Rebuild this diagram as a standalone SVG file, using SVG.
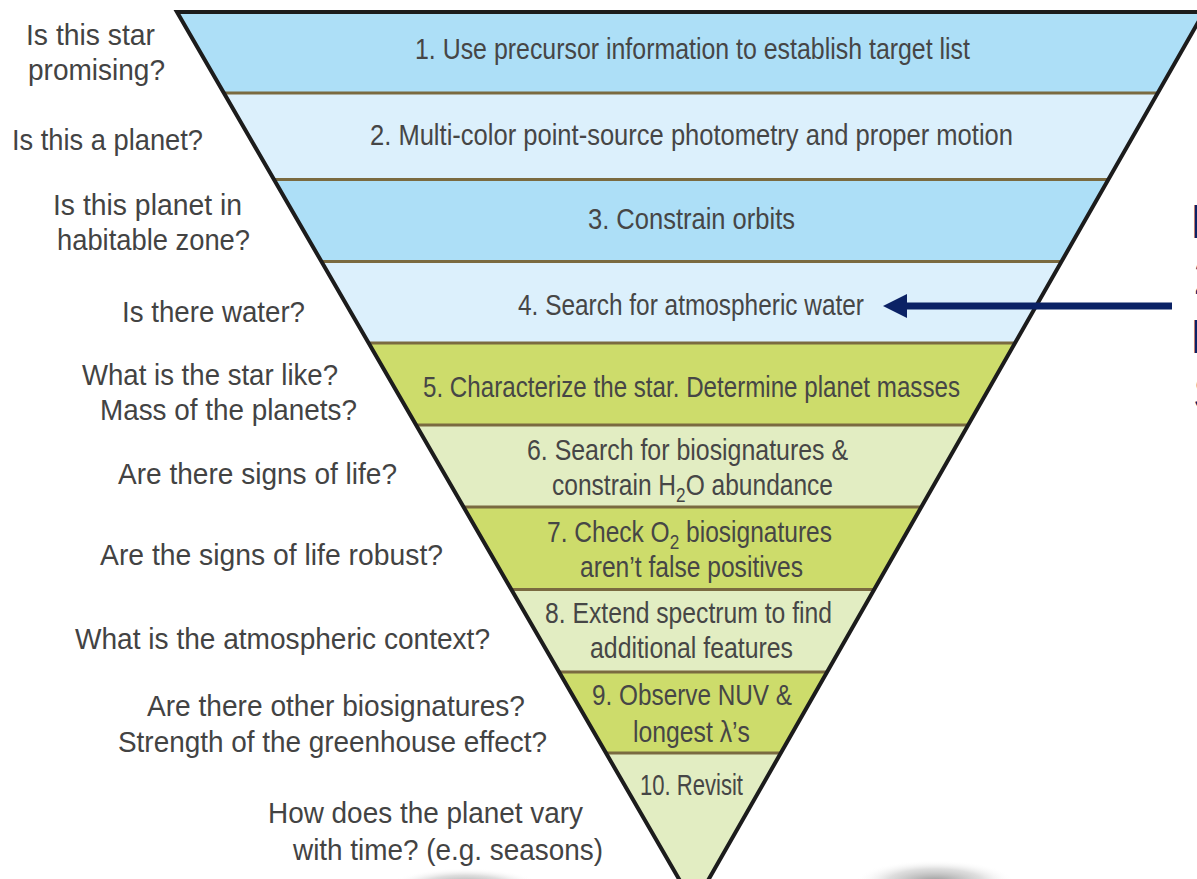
<svg xmlns="http://www.w3.org/2000/svg" width="1197" height="879" viewBox="0 0 1197 879">
<defs>
<clipPath id="tri"><polygon points="177,12 1204,12 694,905"/></clipPath>
<radialGradient id="shadow" cx="0.5" cy="0.5" r="0.5">
<stop offset="0" stop-color="#707070" stop-opacity="0.75"/>
<stop offset="0.6" stop-color="#a0a0a0" stop-opacity="0.35"/>
<stop offset="1" stop-color="#ffffff" stop-opacity="0"/>
</radialGradient>
</defs>
<style>
.q{font-family:"Liberation Sans",Arial,sans-serif;font-size:29px;fill:#434343}
.b{font-family:"Liberation Sans",Arial,sans-serif;font-size:30px;fill:#464646}
.blue{fill:#addff7}
.pale{fill:#dcf0fc}
.grn{fill:#cddc6b}
.lgrn{fill:#e2edc2}
.sep{stroke:#7a6a40;stroke-width:3}
.cut{font-family:"Liberation Sans",Arial,sans-serif;font-size:48px;fill:#0b2265}
</style>
<rect width="1197" height="879" fill="#ffffff"/>
<ellipse cx="465" cy="886" rx="75" ry="18" fill="url(#shadow)"/>
<ellipse cx="935" cy="882" rx="80" ry="22" fill="url(#shadow)"/>

<g clip-path="url(#tri)">
<g id="band1"><rect class="blue" x="170" y="12" width="1040" height="81"/></g>
<g id="band2"><rect class="pale" x="170" y="93" width="1040" height="86.5"/></g>
<g id="band3"><rect class="blue" x="170" y="179.5" width="1040" height="82"/></g>
<g id="band4"><rect class="pale" x="170" y="261.5" width="1040" height="81.5"/></g>
<g id="band5"><rect class="grn" x="170" y="343" width="1040" height="82"/></g>
<g id="band6"><rect class="lgrn" x="170" y="425" width="1040" height="82"/></g>
<g id="band7"><rect class="grn" x="170" y="507" width="1040" height="82.5"/></g>
<g id="band8"><rect class="lgrn" x="170" y="589.5" width="1040" height="82.5"/></g>
<g id="band9"><rect class="grn" x="170" y="672" width="1040" height="81"/></g>
<g id="band10"><rect class="lgrn" x="170" y="753" width="1040" height="160"/></g>
<g id="separators">
<line class="sep" x1="170" y1="93" x2="1210" y2="93"/>
<line class="sep" x1="170" y1="179.5" x2="1210" y2="179.5"/>
<line class="sep" x1="170" y1="261.5" x2="1210" y2="261.5"/>
<line class="sep" x1="170" y1="343" x2="1210" y2="343"/>
<line class="sep" x1="170" y1="425" x2="1210" y2="425"/>
<line class="sep" x1="170" y1="507" x2="1210" y2="507"/>
<line class="sep" x1="170" y1="589.5" x2="1210" y2="589.5"/>
<line class="sep" x1="170" y1="672" x2="1210" y2="672"/>
<line class="sep" x1="170" y1="753" x2="1210" y2="753"/>
</g>
</g>
<polygon id="triangle-outline" points="177,12 1204,12 694,905" fill="none" stroke="#1c1c1c" stroke-width="4" stroke-linejoin="miter"/>

<g id="band-labels">
<g id="label1"><text class="b" x="415" y="59" textLength="555" lengthAdjust="spacingAndGlyphs">1. Use precursor information to establish target list</text></g>
<g id="label2"><text class="b" x="370" y="145" textLength="643" lengthAdjust="spacingAndGlyphs">2. Multi-color point-source photometry and proper motion</text></g>
<g id="label3"><text class="b" x="588" y="229" textLength="207" lengthAdjust="spacingAndGlyphs">3. Constrain orbits</text></g>
<g id="label4"><text class="b" x="518" y="315" textLength="346" lengthAdjust="spacingAndGlyphs">4. Search for atmospheric water</text></g>
<g id="label5"><text class="b" x="423" y="397" textLength="537" lengthAdjust="spacingAndGlyphs">5. Characterize the star. Determine planet masses</text></g>
<g id="label6">
<text class="b" x="527" y="460" textLength="321" lengthAdjust="spacingAndGlyphs">6. Search for biosignatures &amp;</text>
<text class="b" x="552" y="495" textLength="281" lengthAdjust="spacingAndGlyphs">constrain H<tspan font-size="21" dy="7">2</tspan><tspan dy="-7">O abundance</tspan></text>
</g>
<g id="label7">
<text class="b" x="547" y="542" textLength="285" lengthAdjust="spacingAndGlyphs">7. Check O<tspan font-size="21" dy="7">2</tspan><tspan dy="-7"> biosignatures</tspan></text>
<text class="b" x="580" y="577" textLength="223" lengthAdjust="spacingAndGlyphs">aren’t false positives</text>
</g>
<g id="label8">
<text class="b" x="545" y="623" textLength="287" lengthAdjust="spacingAndGlyphs">8. Extend spectrum to find</text>
<text class="b" x="590" y="658" textLength="203" lengthAdjust="spacingAndGlyphs">additional features</text>
</g>
<g id="label9">
<text class="b" x="592" y="705" textLength="200" lengthAdjust="spacingAndGlyphs">9. Observe NUV &amp;</text>
<text class="b" x="633" y="742" textLength="117" lengthAdjust="spacingAndGlyphs">longest λ’s</text>
</g>
<g id="label10"><text class="b" x="640" y="795" textLength="103" lengthAdjust="spacingAndGlyphs">10. Revisit</text></g>
</g>

<g id="questions">
<g id="q1">
<text class="q" x="26" y="45" textLength="129" lengthAdjust="spacingAndGlyphs">Is this star</text>
<text class="q" x="28" y="80" textLength="137" lengthAdjust="spacingAndGlyphs">promising?</text>
</g>
<g id="q2"><text class="q" x="12" y="150" textLength="191" lengthAdjust="spacingAndGlyphs">Is this a planet?</text></g>
<g id="q3">
<text class="q" x="53" y="215" textLength="189" lengthAdjust="spacingAndGlyphs">Is this planet in</text>
<text class="q" x="57" y="250" textLength="193" lengthAdjust="spacingAndGlyphs">habitable zone?</text>
</g>
<g id="q4"><text class="q" x="122" y="322" textLength="183" lengthAdjust="spacingAndGlyphs">Is there water?</text></g>
<g id="q5">
<text class="q" x="82" y="385" textLength="256" lengthAdjust="spacingAndGlyphs">What is the star like?</text>
<text class="q" x="100" y="420" textLength="257" lengthAdjust="spacingAndGlyphs">Mass of the planets?</text>
</g>
<g id="q6"><text class="q" x="118" y="484" textLength="279" lengthAdjust="spacingAndGlyphs">Are there signs of life?</text></g>
<g id="q7"><text class="q" x="100" y="565" textLength="343" lengthAdjust="spacingAndGlyphs">Are the signs of life robust?</text></g>
<g id="q8"><text class="q" x="75" y="649" textLength="415" lengthAdjust="spacingAndGlyphs">What is the atmospheric context?</text></g>
<g id="q9">
<text class="q" x="147" y="716" textLength="378" lengthAdjust="spacingAndGlyphs">Are there other biosignatures?</text>
<text class="q" x="118" y="752" textLength="429" lengthAdjust="spacingAndGlyphs">Strength of the greenhouse effect?</text>
</g>
<g id="q10">
<text class="q" x="268" y="823" textLength="315" lengthAdjust="spacingAndGlyphs">How does the planet vary</text>
<text class="q" x="293" y="860" textLength="310" lengthAdjust="spacingAndGlyphs">with time? (e.g. seasons)</text>
</g>
</g>

<g id="side-note">
<text class="cut" x="1190" y="238">I</text>
<text class="cut" x="1193.5" y="294">2</text>
<text class="cut" x="1190" y="353">I</text>
<text class="cut" x="1193" y="410">S</text>
</g>

<g id="connectors">
<line x1="1172" y1="306" x2="904" y2="306" stroke="#0b2265" stroke-width="7"/>
<polygon points="883,306 907,294 907,318" fill="#0b2265"/>
</g>
</svg>
